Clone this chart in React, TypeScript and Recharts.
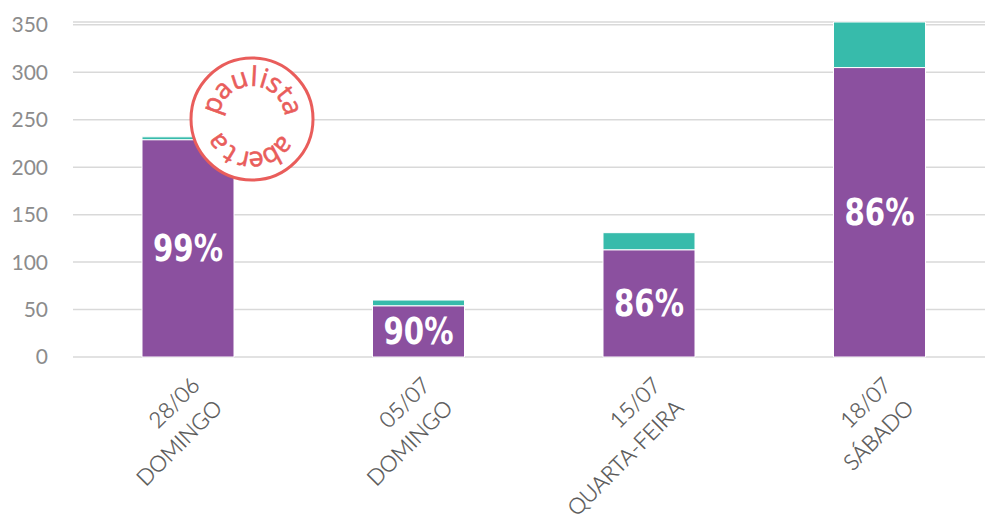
import React from "react";
import {
	BarChart,
	Bar,
	XAxis,
	YAxis,
	CartesianGrid,
	LabelList,
} from "recharts";

const dates = ["28/06", "05/07", "15/07", "18/07"];
const weekdays = ["DOMINGO", "DOMINGO", "QUARTA-FEIRA", "SÁBADO"];
const purpleValues = [229, 54, 113, 305];
const tealValues = [3, 6, 18, 48];
const pctLabels = ["99%", "90%", "86%", "86%"];
const yTicks = [0, 50, 100, 150, 200, 250, 300, 350];

const data = dates.map((d, i) => ({
	date: d,
	purple: purpleValues[i],
	teal: tealValues[i],
	pct: pctLabels[i],
}));

const PURPLE = "#8B509F";
const TEAL = "#37BBAB";
const STAMP = "#E95D5B";

const DateTick = (props: any) => {
	const { x, y, payload } = props;
	const i = dates.indexOf(payload.value);
	return (
		<g transform={`translate(${x},${y})`}>
			<text
				transform="rotate(-45)"
				textAnchor="end"
				fill="#555555"
				fontSize={22}
				fontFamily="Lato, 'Open Sans', sans-serif"
				fontWeight={300}
				stroke="#555555"
				strokeWidth={0.3}
			>
				<tspan x={-12} y={30}>
					{payload.value}
				</tspan>
				<tspan x={-12} y={62}>
					{weekdays[i]}
				</tspan>
			</text>
		</g>
	);
};

// stencil-ish percent label: tall bold text squeezed to width
const PctLabel = (props: any) => {
	const { x, y, width, height, value } = props;
	return (
		<text
			x={x + width / 2}
			y={y + height / 2 + 13}
			textAnchor="middle"
			fill="#ffffff"
			fontSize={37}
			fontWeight="bold"
			fontFamily="'DejaVu Sans Condensed', 'DejaVu Sans', sans-serif"
			textLength={70}
			lengthAdjust="spacingAndGlyphs"
		>
			{value}
		</text>
	);
};

// logo stamp "paulista aberta", letters placed around the circle
const stampText = "paulistaaberta";
const stampAngles = [160, 135, 108, 87, 73, 57, 38, 17, -40, -62, -84, -102, -122, -146];

const Stamp = () => {
	const cx = 252;
	const cy = 119;
	const r = 61;
	const rb = 33;
	return (
		<svg
			width={985}
			height={522}
			style={{ position: "absolute", left: 0, top: 0, pointerEvents: "none" }}
		>
			<circle cx={cx} cy={cy} r={r} fill="#ffffff" stroke={STAMP} strokeWidth={3} />
			{stampText.split("").map((ch, i) => {
				const a = (stampAngles[i] * Math.PI) / 180;
				const px = cx + rb * Math.cos(a);
				const py = cy - rb * Math.sin(a);
				return (
					<text
						key={i}
						x={px}
						y={py}
						transform={`rotate(${90 - stampAngles[i]} ${px} ${py})`}
						textAnchor="middle"
						fill={STAMP}
						stroke={STAMP}
						strokeWidth={0.6}
						fontSize={27}
						fontFamily="'Open Sans', sans-serif"
					>
						{ch}
					</text>
				);
			})}
		</svg>
	);
};

const App: React.FC = () => {
	return (
		<div
			style={{
				position: "absolute",
				left: 0,
				top: 0,
				width: 985,
				height: 522,
				overflow: "hidden",
				background: "#ffffff",
			}}
		>
			<BarChart
				width={995}
				height={522}
				data={data}
				margin={{ top: 22, right: 0, left: 0, bottom: 0 }}
			>
				<CartesianGrid vertical={false} stroke="#d9d9d9" strokeWidth={1.5} />
				<XAxis
					dataKey="date"
					height={165}
					axisLine={false}
					tickLine={false}
					tickSize={0}
					tickMargin={0}
					interval={0}
					tick={<DateTick />}
				/>
				<YAxis
					width={73}
					domain={[0, 350]}
					ticks={yTicks}
					axisLine={false}
					tickLine={false}
					tickSize={0}
					tickMargin={25}
					tick={{ fill: "#8c8c8c", fontSize: 21, fontFamily: "Lato, sans-serif" }}
				/>
				<Bar
					dataKey="purple"
					stackId="a"
					fill={PURPLE}
					stroke="#ffffff"
					strokeWidth={1}
					barSize={92}
					isAnimationActive={false}
				>
					<LabelList dataKey="pct" content={<PctLabel />} />
				</Bar>
				<Bar
					dataKey="teal"
					stackId="a"
					fill={TEAL}
					stroke="#ffffff"
					strokeWidth={1}
					barSize={92}
					isAnimationActive={false}
				/>
			</BarChart>
			<Stamp />
		</div>
	);
};

export default App;
